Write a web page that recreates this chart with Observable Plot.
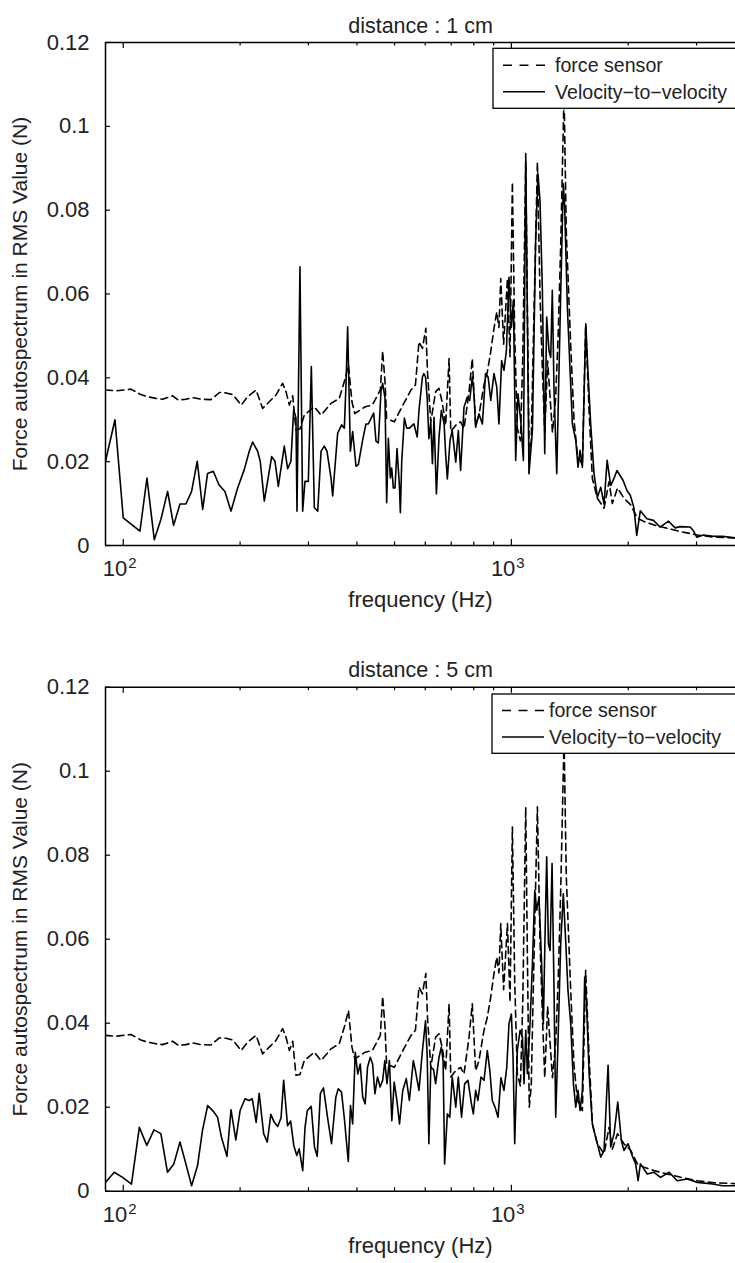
<!DOCTYPE html>
<html><head><meta charset="utf-8">
<script src="https://cdn.jsdelivr.net/npm/d3@7"></script>
<script src="https://cdn.jsdelivr.net/npm/@observablehq/plot@0.6"></script>
<style>
html,body{margin:0;padding:0;background:#fff;}
#chart{width:735px;}
#chart svg{display:block;}
</style></head><body><div id="chart"></div>
<script>
const titles = ["distance : 1 cm", "distance : 5 cm"];
const xLabel = "frequency (Hz)";
const yLabel = "Force autospectrum in RMS Value (N)";
const seriesNames = ["force sensor", "Velocity\u2212to\u2212velocity"];
const yTicks = [0, 0.02, 0.04, 0.06, 0.08, 0.1, 0.12];
const yTickLabels = ["0", "0.02", "0.04", "0.06", "0.08", "0.1", "0.12"];
const xMajorTicks = [100, 1000];
const xMajorBase = ["10", "10"];
const xMajorExp = ["2", "3"];
const xMinorTicks = [200, 300, 400, 500, 600, 700, 800, 900, 2000, 3000];

// force sensor (dashed), same reference measurement in both panels: [Hz, N]
const forceSensor = [
[90,0.0371],[95.7,0.0369],[104.7,0.0373],[111,0.0360],[115.5,0.0355],[121.4,0.0351],[126.3,0.0349],[134,0.0357],[138.7,0.0347],[145,0.0349],[150.8,0.0353],[158.5,0.0349],[168.2,0.0348],[176.9,0.0365],[184,0.0364],[191.5,0.0360],[201.4,0.0335],[209.1,0.0355],[219.9,0.0371],[228.6,0.0327],[237.8,0.0343],[247.5,0.0359],[257.4,0.0387],[262.6,0.0367],[267.9,0.0335],[273.3,0.0357],[278.6,0.0276],[285.3,0.0278],[292.7,0.0311],[310.7,0.0331],[323.3,0.0311],[343,0.0339],[360.2,0.0351],[371.2,0.0391],[380.4,0.0430],[388.4,0.0343],[394.9,0.0315],[420.3,0.0331],[438.4,0.0335],[459.6,0.0371],[466,0.0464],[472.5,0.0391],[477,0.0303],[499.4,0.0295],[525.4,0.0335],[551.5,0.0371],
[566,0.0383],[578,0.0486],[590,0.047],[602,0.0518],[608,0.0414],[620,0.0295],[638,0.0367],[651,0.0375],[664,0.034],[677,0.0287],[691,0.0446],[698,0.0272],[719,0.0287],[740,0.0295],[755,0.0279],[778,0.0367],[793,0.0446],[809,0.0287],[825,0.0311],[850,0.0383],[867,0.0414],[884,0.046],[902,0.0518],[917,0.0557],[929,0.052],[939,0.0637],[955,0.048],[977,0.0637],[992,0.045],[1006,0.0867],[1020,0.05],[1036,0.0279],[1055,0.025],[1070,0.045],[1089,0.0915],[1100,0.055],[1112,0.020],[1125,0.025],[1140,0.05],[1167,0.0915],[1185,0.06],[1202,0.042],[1219,0.027],[1240,0.044],[1276,0.027],[1300,0.035],[1320,0.05],[1340,0.0716],[1367,0.108],[1385,0.075],[1422,0.0478],[1450,0.030],[1480,0.0216],[1524,0.0192],[1554,0.0526],[1586,0.032],[1617,0.016],[1665,0.0113],[1733,0.0089],[1785,0.0152],[1820,0.010],[1877,0.0137],[1950,0.0113],[2030,0.0097],[2113,0.0065],[2198,0.0057],[2331,0.0049],[2521,0.0041],[2731,0.0033],[3014,0.0025],[3329,0.0020],[3780,0.0018]
];

// velocity-to-velocity estimate, distance 1 cm: [Hz, N]
const velocity1cm = [
[90,0.0201],[95.2,0.0300],[100,0.0066],[110.4,0.0034],[115.1,0.0161],[120.2,0.0014],[125,0.0062],[130.1,0.0129],[134.8,0.0048],[140,0.0099],[145,0.0099],[150,0.0129],[155.1,0.0201],[160.2,0.0086],[164.9,0.0172],[170.6,0.0177],[176.4,0.0145],[182.8,0.0129],[189.5,0.0082],[197.1,0.0137],[205,0.0181],[211.2,0.0225],[215.4,0.0247],[221.9,0.0225],[225.4,0.0201],[230.9,0.0106],[241.2,0.0212],[246,0.0201],[250.9,0.0141],[260,0.0237],[265.2,0.0183],[270.4,0.0201],[274.8,0.0324],[278.6,0.0304],[280.3,0.0082],[285.3,0.0665],[289.9,0.0082],[293.9,0.0153],[299.8,0.0153],[305.2,0.0427],[310.7,0.0090],[317,0.0082],[323.3,0.0225],[329.6,0.0237],[334.9,0.0225],[343,0.0161],[346.4,0.0118],[356.8,0.0268],[365.4,0.0288],[371.2,0.0280],[374.9,0.0384],[378.6,0.0522],[384.7,0.0225],[390,0.0272],[397.8,0.0189],[403.4,0.0193],[413.9,0.0252],[422.1,0.0290],[428,0.0290],[441.8,0.0316],[447.9,0.0249],[454.2,0.0245],[461.4,0.0368],[466,0.0387],[472.5,0.0352],[477.2,0.0102],[482,0.0256],[487.7,0.0161],[491.6,0.0185],[496.5,0.0137],[501.4,0.0137],[507.4,0.0231],[514.5,0.0145],[517.6,0.0078],[521.8,0.0201],[530.1,0.0304],[537.5,0.0280],[546,0.0280],
[561,0.0290],[572,0.0259],[578,0.0322],[590,0.0402],[595,0.0410],[601,0.0402],[607,0.035],[613,0.0255],[620,0.0294],[626,0.0195],[632,0.0306],[641,0.0123],[651,0.0259],[660,0.0322],[671,0.0290],[677,0.0219],[684,0.0159],[695,0.0251],[704,0.0274],[719,0.0199],[730,0.0274],[740,0.0179],[755,0.0330],[770,0.0354],[781,0.0346],[793,0.0402],[801,0.0362],[809,0.0282],[825,0.0314],[842,0.0290],[858,0.0410],[871,0.0402],[885,0.0346],[902,0.0410],[917,0.0378],[929,0.0290],[944,0.0441],[957,0.0418],[971,0.0465],[986,0.0640],[1000,0.0521],[1012,0.0585],[1026,0.0203],[1040,0.0362],[1057,0.0298],[1074,0.0203],[1089,0.0935],[1110,0.0171],[1133,0.0274],[1155,0.0728],[1171,0.0887],[1185,0.0823],[1202,0.0609],[1219,0.0219],[1233,0.0545],[1250,0.0465],[1263,0.0449],[1275,0.0609],[1288,0.0370],[1309,0.0171],[1340,0.0601],[1361,0.0863],[1372,0.0807],[1394,0.0569],[1436,0.0290],[1465,0.0251],[1485,0.0187],[1503,0.0227],[1524,0.0187],[1555,0.0529],[1576,0.0410],[1601,0.0290],[1633,0.0171],[1666,0.0115],[1699,0.0139],[1733,0.0099],[1765,0.0203],[1803,0.0143],[1838,0.0160],[1871,0.0179],[1941,0.0155],[1985,0.0131],[2025,0.0120],[2068,0.0091],[2104,0.0024],[2149,0.0083],[2234,0.0064],[2323,0.0060],[2416,0.0044],[2541,0.0058],[2642,0.0042],[2722,0.0045],[2888,0.0044],[2945,0.0035],[3004,0.0020],[3125,0.0025],[3313,0.0022],[3500,0.0022],[3780,0.0018]
];

// velocity-to-velocity estimate, distance 5 cm: [Hz, N]
const velocity5cm = [
[90,0.0021],[94.8,0.0045],[99.6,0.0033],[105,0.0017],[110,0.0152],[115,0.0109],[120,0.0146],[125,0.0137],[130,0.0045],[135,0.0065],[140,0.0117],[145,0.0065],[150,0.0013],[155.4,0.0061],[160,0.0145],[165,0.0204],[170,0.0192],[175,0.0176],[179,0.0129],[185,0.0083],[189.5,0.0194],[195,0.0122],[200,0.0192],[206,0.0220],[211,0.0216],[215,0.0220],[220,0.0164],[224,0.0233],[230,0.0137],[235,0.0117],[240,0.0183],[245,0.0164],[250,0.0154],[255,0.0175],[259,0.0264],[265,0.0156],[270,0.0167],[275,0.0109],[280,0.0085],[284,0.0101],[290,0.0049],[294,0.0152],[298,0.0192],[305,0.0202],[311,0.0105],[316,0.0083],[322,0.0233],[328,0.0246],[336,0.0176],[344,0.0113],[353,0.0224],[358,0.0244],[365,0.0236],[371,0.0176],[380,0.0071],[385,0.0204],[390,0.0160],[396,0.0331],[402,0.0279],[408,0.0303],[414,0.0224],[420,0.0208],[426,0.0295],[433,0.0319],[439,0.0303],[445,0.0232],[452,0.0272],[459,0.0248],[466,0.0264],[472,0.0311],[478,0.0256],[485,0.0311],[492,0.0168],[499,0.0260],[507,0.0216],[515,0.0160],[525,0.0240],[536,0.0268],[546,0.0216],
[559,0.0311],[566,0.0287],[578,0.0240],[590,0.0335],[595,0.0367],[601,0.0406],[607,0.0319],[613,0.0113],[620,0.0295],[630,0.0290],[638,0.0256],[651,0.0319],[660,0.0343],[667,0.0310],[673,0.0065],[684,0.0184],[694,0.0176],[704,0.0272],[719,0.0200],[730,0.0272],[744,0.0176],[758,0.0256],[773,0.0264],[789,0.0208],[798,0.0184],[809,0.0240],[820,0.0216],[835,0.0272],[850,0.0264],[867,0.0335],[880,0.0287],[893,0.0216],[908,0.0200],[924,0.0176],[940,0.0270],[957,0.0240],[973,0.0295],[986,0.0399],[1000,0.0422],[1010,0.0320],[1020,0.0113],[1036,0.0335],[1053,0.0383],[1068,0.0367],[1078,0.0256],[1089,0.0383],[1100,0.0280],[1117,0.0399],[1133,0.0541],[1149,0.0716],[1162,0.0669],[1178,0.0700],[1195,0.0557],[1209,0.0399],[1219,0.0573],[1233,0.0796],[1246,0.0589],[1258,0.0573],[1273,0.0780],[1288,0.0478],[1301,0.0176],[1319,0.0359],[1340,0.0589],[1361,0.0708],[1380,0.0597],[1399,0.0478],[1422,0.0399],[1445,0.0256],[1465,0.0200],[1485,0.0240],[1503,0.0192],[1524,0.0240],[1545,0.0510],[1563,0.0438],[1586,0.0280],[1617,0.0160],[1640,0.0137],[1666,0.0113],[1699,0.0081],[1733,0.0097],[1775,0.0300],[1803,0.0105],[1839,0.0137],[1880,0.0212],[1920,0.0121],[1950,0.0097],[1998,0.0113],[2055,0.0081],[2090,0.0065],[2121,0.0025],[2150,0.0065],[2240,0.0041],[2331,0.0045],[2422,0.0033],[2550,0.0045],[2675,0.0025],[2840,0.0029],[3014,0.0021],[3300,0.0017],[3500,0.0013],[3780,0.0013]
];

const FONT = "'Liberation Sans', Arial, Helvetica, sans-serif";
const FS = 22;      // axes text
const FS_SUP = 15;  // exponent
const FS_Y = 21;    // y-axis label
const FS_T = 21.5;  // title
const FS_L = 19.6;  // legend

function panel(title, velocity, cfg) {
  const W = 735, ML = 105;
  const plotW = W - ML;
  const plotH = cfg.height - cfg.top - cfg.bottom;
  const rows = arr => arr.map(([f, v]) => ({f, v}));
  const svg = Plot.plot({
    width: W, height: cfg.height,
    marginLeft: ML, marginRight: 0, marginTop: cfg.top, marginBottom: cfg.bottom,
    style: {fontFamily: FONT, fontSize: FS + "px", color: "black", background: "white", overflow: "visible"},
    x: {type: "log", domain: [90, 3780], axis: null},
    y: {domain: [0, 0.12], axis: null},
    marks: [
      Plot.line(rows(forceSensor), {x: "f", y: "v", stroke: "black", strokeWidth: 1.6, strokeDasharray: "7,4.5", clip: true}),
      Plot.line(rows(velocity), {x: "f", y: "v", stroke: "black", strokeWidth: 1.6, clip: true}),
      Plot.ruleY([0, 0.12], {stroke: "black", strokeWidth: 1.5}),
      Plot.ruleX([90], {stroke: "black", strokeWidth: 1.5}),
      Plot.tickY(yTicks, {y: d => d, insetRight: plotW - 5, stroke: "black", strokeWidth: 1.2}),
      Plot.tickX(xMajorTicks, {x: d => d, insetTop: plotH - 6, stroke: "black", strokeWidth: 1.2}),
      Plot.tickX(xMajorTicks, {x: d => d, insetBottom: plotH - 6, stroke: "black", strokeWidth: 1.2}),
      Plot.tickX(xMinorTicks, {x: d => d, insetTop: plotH - 3.5, stroke: "black", strokeWidth: 1.2}),
      Plot.tickX(xMinorTicks, {x: d => d, insetBottom: plotH - 3.5, stroke: "black", strokeWidth: 1.2}),
      Plot.text(yTicks, {y: d => d, frameAnchor: "left", dx: -16, textAnchor: "end", text: (d, i) => yTickLabels[i], fontSize: FS, fill: "#222"}),
      Plot.text(xMajorTicks, {x: d => d, frameAnchor: "bottom", dy: cfg.tickDy, dx: 4, textAnchor: "end", text: (d, i) => xMajorBase[i], fontSize: FS, fill: "#222"}),
      Plot.text(xMajorTicks, {x: d => d, frameAnchor: "bottom", dy: cfg.tickDy - 8, dx: 5, textAnchor: "start", text: (d, i) => xMajorExp[i], fontSize: FS_SUP, fill: "#222"}),
      Plot.text([xLabel], {frameAnchor: "bottom", dy: cfg.labelDy, textAnchor: "middle", text: d => d, fontSize: FS, fill: "#222"}),
      Plot.text([yLabel], {frameAnchor: "left", dx: -85, rotate: -90, textAnchor: "middle", text: d => d, fontSize: FS_Y, fill: "#222"}),
      Plot.text([title], {frameAnchor: "top", dy: -25, textAnchor: "middle", text: d => d, fontSize: FS_T, fill: "#222"})
    ]
  });
  // legend box (upper right, extending past the clipped right edge)
  const g = d3.select(svg).append("g").attr("font-family", FONT).attr("font-size", FS_L).attr("text-anchor", "start");
  const L = cfg.legend;
  const x0 = ML + L.left, y0 = cfg.top + L.top;
  g.append("rect").attr("x", x0).attr("y", y0).attr("width", W - x0 + 10).attr("height", L.h)
    .attr("fill", "white").attr("stroke", "black").attr("stroke-width", 1.3);
  g.append("line").attr("x1", x0 + 10).attr("x2", x0 + 52).attr("y1", y0 + L.r1).attr("y2", y0 + L.r1)
    .attr("stroke", "black").attr("stroke-width", 1.5).attr("stroke-dasharray", "9,7.5");
  g.append("line").attr("x1", x0 + 10).attr("x2", x0 + 52).attr("y1", y0 + L.r2).attr("y2", y0 + L.r2)
    .attr("stroke", "black").attr("stroke-width", 1.5);
  g.append("text").attr("x", x0 + L.tx).attr("y", y0 + L.r1).attr("dy", "0.35em").attr("fill", "#222").text(seriesNames[0]);
  g.append("text").attr("x", x0 + L.tx).attr("y", y0 + L.r2).attr("dy", "0.35em").attr("fill", "#222").text(seriesNames[1]);
  return svg;
}

const chart = document.getElementById("chart");
chart.appendChild(panel(titles[0], velocity1cm, {height: 645, top: 42, bottom: 100, tickDy: 30, labelDy: 61,
  legend: {left: 388, top: 6.3, h: 60, r1: 17, r2: 43.5, tx: 62}}));
chart.appendChild(panel(titles[1], velocity5cm, {height: 618, top: 41.7, bottom: 72.3, tickDy: 31, labelDy: 62,
  legend: {left: 387, top: 7.3, h: 59.3, r1: 16.5, r2: 43, tx: 57}}));
</script></body></html>
